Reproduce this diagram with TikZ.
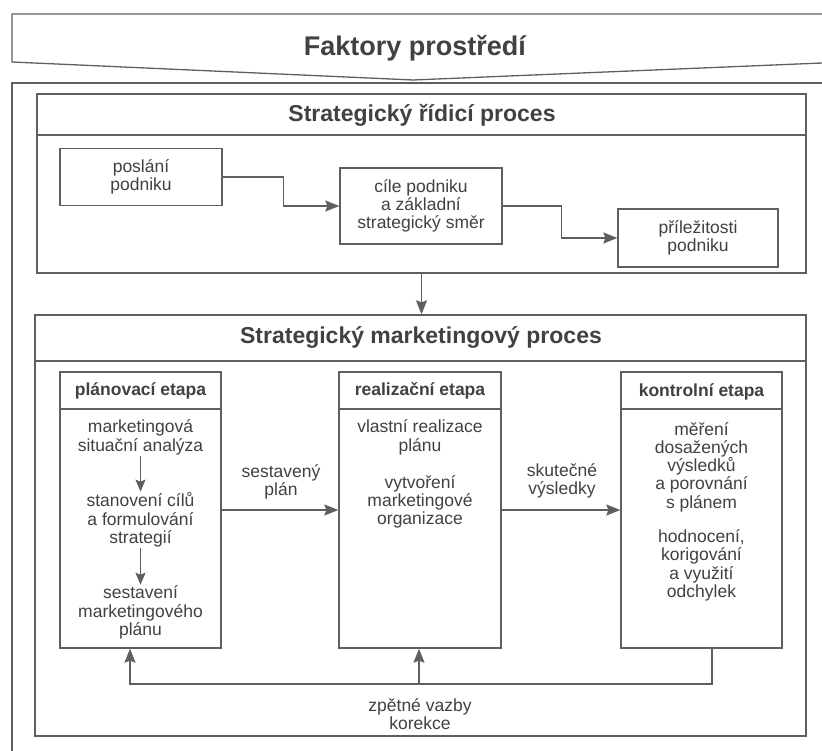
\documentclass[tikz,border=0pt]{standalone}
\usepackage{fontspec}
\setmainfont{Liberation Sans}
\usetikzlibrary{arrows.meta}
\definecolor{linegray}{RGB}{95,95,95}
\definecolor{inkgray}{RGB}{65,65,65}

\begin{document}
\begin{tikzpicture}[x=1pt,y=-1pt,
  frame/.style={draw=linegray, line width=1.3pt},
  txt/.style={text=inkgray, align=center, inner sep=1pt, font=\fontsize{17.5}{18.3}\selectfont},
  box/.style={frame, fill=white, inner sep=0pt},
  head/.style={text=inkgray, font=\fontsize{17.5}{20}\selectfont\bfseries},
  title/.style={text=inkgray, font=\fontsize{23}{26}\selectfont\bfseries},
  flow/.style={frame, -{Stealth[length=14pt,width=11pt,inset=2pt]}},
  inner flow/.style={frame, -{Stealth[length=12pt,width=10pt,inset=2pt]}},
  ]
\useasboundingbox (0,0) rectangle (822,751);
% environment banner and outer frame
\draw[frame] (822,83) -- (12,83) -- (12,751);
\draw[frame] (822,14) -- (12,14) -- (12,62) -- (413,80) -- (822,63);
\node[title, font=\fontsize{27}{30}\selectfont\bfseries] (faktory) at (415,48) {Faktory prostředí};

% strategic control process
\node[box, minimum width=769, minimum height=179] (ridici) at (421.5,183.5) {};
\draw[frame] (ridici.west |- 0,135) -- (ridici.east |- 0,135);
\node[title] (riditit) at (422,115) {Strategický řídicí proces};
\node[txt, box, minimum width=162, minimum height=57] (poslani) at (141,177) {poslání\\podniku};
\node[txt, box, minimum width=162, minimum height=76] (cile) at (421,206) {cíle podniku\\a základní\\strategický směr};
\node[txt, box, minimum width=160, minimum height=58] (prilez) at (698,238) {příležitosti\\podniku};
\draw[flow] (poslani.east) -- ++(61,0) |- (cile.west);
\draw[flow] (cile.east) -- ++(59,0) |- (prilez.west);

% strategic marketing process
\node[box, minimum width=771, minimum height=421] (mkt) at (420.5,525.5) {};
\draw[frame] (mkt.west |- 0,361) -- (mkt.east |- 0,361);
\node[title] (mkttit) at (421,338) {Strategický marketingový proces};
\draw[flow] (ridici.south) -- (ridici.south |- mkt.north);

\node[box, minimum width=161, minimum height=276] (plan) at (140.5,510) {};
\node[box, minimum width=162, minimum height=276] (realiz) at (420,510) {};
\node[box, minimum width=161, minimum height=276] (kontrol) at (701.5,510) {};
\foreach \s in {plan,realiz,kontrol}
  \draw[frame] (\s.west |- 0,409) -- (\s.east |- 0,409);
\node[head] (planhead) at (140.5,391) {plánovací etapa};
\node[head] (realizhead) at (420,391) {realizační etapa};
\node[head] (kontrolhead) at (701.5,392) {kontrolní etapa};

\node[txt] (p1) at (140.5,437.5) {marketingová\\situační analýza};
\node[txt] (p2) at (140.5,520) {stanovení cílů\\a formulování\\strategií};
\node[txt] (p3) at (140.5,612.5) {sestavení\\marketingového\\plánu};
\draw[inner flow] (p1) -- (p2);
\draw[inner flow] (p2) -- (p3);

\node[txt] (r1) at (420,437.5) {vlastní realizace\\plánu};
\node[txt] (r2) at (420,502) {vytvoření\\marketingové\\organizace};

\node[txt] (k1) at (701.5,467) {měření\\dosažených\\výsledků\\a porovnání\\s plánem};
\node[txt] (k2) at (701.5,565.5) {hodnocení,\\korigování\\a využití\\odchylek};

\draw[flow] (plan.east) -- (realiz.west);
\node[txt] (sestav) at (281,482) {sestavený\\plán};
\draw[flow] (realiz.east) -- (kontrol.west);
\node[txt] (skut) at (562,481) {skutečné\\výsledky};

% feedback
\coordinate (fb) at (419,684);
\draw[flow] ([xshift=10.5pt]kontrol.south) |- (fb) -| ([xshift=-10.5pt]plan.south);
\draw[flow] (fb) -- (fb |- realiz.south);
\node[txt] (korekce) at (420,714) {zpětné vazby\\korekce};
\end{tikzpicture}
\end{document}
